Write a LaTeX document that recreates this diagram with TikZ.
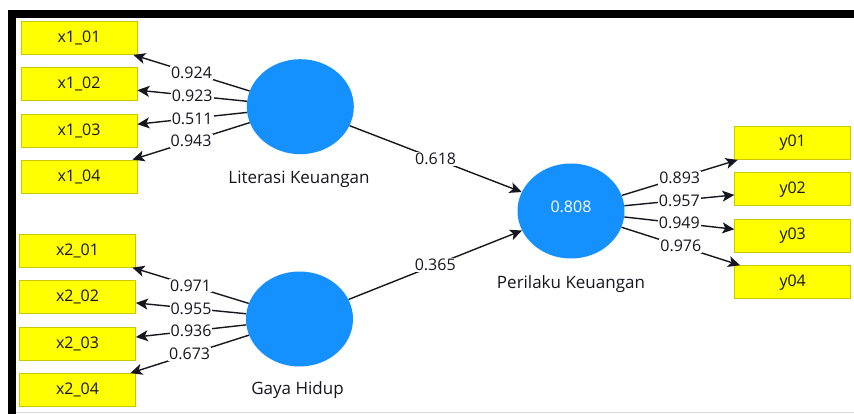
\documentclass[tikz,border=0pt]{standalone}
\usepackage{fontspec}
\setmainfont{Open Sans}
\usetikzlibrary{arrows.meta,shapes.geometric}
\definecolor{lvblue}{RGB}{20,144,255}
\definecolor{mvyellow}{RGB}{255,255,0}
\definecolor{mvedge}{RGB}{200,200,0}
\definecolor{ink}{RGB}{22,22,30}
\begin{document}
\begin{tikzpicture}[x=1pt,y=-1pt,
  mv/.style={rectangle,draw=mvedge,line width=0.8pt,fill=mvyellow,
    minimum width=116pt,minimum height=33pt,inner sep=0pt,
    font=\fontsize{16}{18}\selectfont,text=ink},
  lv/.style={ellipse,fill=lvblue,minimum width=107pt,minimum height=95pt,
    inner sep=0pt,text=white,font=\fontsize{16}{18}\selectfont},
  lvname/.style={font=\fontsize{17}{19}\selectfont,text=ink},
  link/.style={draw=ink,line width=1.4pt,-{Stealth[length=12pt,width=11pt,inset=3pt]}},
  coef/.style={fill=white,inner sep=1pt,font=\fontsize{16}{18}\selectfont,text=ink}]
\useasboundingbox (0,0) rectangle (854,414);
\fill[white] (0,0) rectangle (854,414);
% window frame
\fill[black] (8,10) rectangle (854,18);
\fill[black] (8,10) rectangle (16,414);
\draw[black!15,line width=1pt] (16,412.5) -- (854,412.5);

% indicators of Literasi Keuangan
\node[mv] (x101) at (79,38)    {x1\_01};
\node[mv] (x102) at (79,84.2)  {x1\_02};
\node[mv] (x103) at (79,130.5) {x1\_03};
\node[mv] (x104) at (79,176.5) {x1\_04};
% indicators of Gaya Hidup
\node[mv] (x201) at (77.5,250.7) {x2\_01};
\node[mv] (x202) at (77.5,297.2) {x2\_02};
\node[mv] (x203) at (77.5,343.5) {x2\_03};
\node[mv] (x204) at (77.5,390)   {x2\_04};
% indicators of Perilaku Keuangan
\node[mv] (y01) at (792.7,143)   {y01};
\node[mv] (y02) at (792.7,189.2) {y02};
\node[mv] (y03) at (792.7,235.8) {y03};
\node[mv] (y04) at (792.7,282.2) {y04};

% latent variables
\node[lv] (LK) at (300.3,106.7) {};
\node[lv] (GH) at (299.5,319)   {};
\node[lv] (PK) at (571,211)     {};
\node[text=white,font=\fontsize{16}{18}\selectfont] (R2) at (571,207) {0.808};
\node[lvname] (LKname) at (299,179) {Literasi Keuangan};
\node[lvname] (GHname) at (297.5,390) {Gaya Hidup};
\node[lvname] (PKname) at (571,284) {Perilaku Keuangan};

% outer loadings
\draw[link] (LK) -- node[coef] {0.924} (x101);
\draw[link] (LK) -- node[coef] {0.923} (x102);
\draw[link] (LK) -- node[coef] {0.511} (x103);
\draw[link] (LK) -- node[coef] {0.943} (x104);
\draw[link] (GH) -- node[coef] {0.971} (x201);
\draw[link] (GH) -- node[coef] {0.955} (x202);
\draw[link] (GH) -- node[coef] {0.936} (x203);
\draw[link] (GH) -- node[coef] {0.673} (x204);
\draw[link] (PK) -- node[coef] {0.893} (y01);
\draw[link] (PK) -- node[coef] {0.957} (y02);
\draw[link] (PK) -- node[coef] {0.949} (y03);
\draw[link] (PK) -- node[coef] {0.976} (y04);
% path coefficients
\draw[link] (LK) -- node[coef] {0.618} (PK);
\draw[link] (GH) -- node[coef] {0.365} (PK);
\end{tikzpicture}
\end{document}
